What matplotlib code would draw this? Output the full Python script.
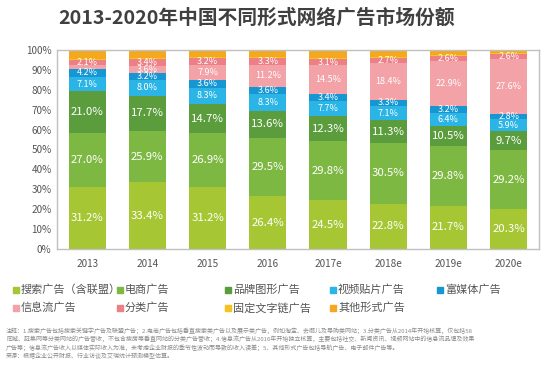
import numpy as np
import matplotlib
matplotlib.use('Agg')
import matplotlib.pyplot as plt
from matplotlib.patches import Rectangle

plt.rcParams['font.family'] = ['Noto Sans CJK SC', 'DejaVu Sans']

# data (percent share, stacked bottom -> top)
years = ['2013', '2014', '2015', '2016', '2017e', '2018e', '2019e', '2020e']
series_names = ['搜索广告（含联盟）', '电商广告', '品牌图形广告', '视频贴片广告', '富媒体广告',
                '信息流广告', '分类广告', '固定文字链广告', '其他形式广告']
search = [31.2, 33.4, 31.2, 26.4, 24.5, 22.8, 21.7, 20.3]
ecommerce = [27.0, 25.9, 26.9, 29.5, 29.8, 30.5, 29.8, 29.2]
brand = [21.0, 17.7, 14.7, 13.6, 12.3, 11.3, 10.5, 9.7]
video = [7.1, 8.0, 8.3, 8.3, 7.7, 7.1, 6.4, 5.9]
rich_media = [4.2, 3.2, 3.6, 3.6, 3.4, 3.3, 3.2, 2.8]
feed = [2.1, 3.6, 7.9, 11.2, 14.5, 18.4, 22.9, 27.6]
classified = [2.1, 3.4, 3.2, 3.3, 3.1, 2.7, 2.6, 2.6]
text_link = [0.6, 0.5, 0.5, 0.4, 0.4, 0.3, 0.3, 0.2]
other = [4.7, 4.3, 3.7, 3.7, 4.3, 3.6, 2.6, 1.7]

colors = ['#a6c634', '#7db843', '#5b9c3d', '#2ab5e6', '#1697d3',
          '#f3a2a7', '#ed7f87', '#f6c21c', '#f4a820']

values = [search, ecommerce, brand, video, rich_media, feed, classified, text_link, other]

fig = plt.figure(figsize=(5.6, 3.75), dpi=100)
fig.patch.set_facecolor('white')
ax = fig.add_axes([0.102, 0.336, 0.86, 0.531])

x = np.arange(len(years))
bottom = np.zeros(len(years))
for i, (vals, c) in enumerate(zip(values, colors)):
    vals = np.array(vals)
    ax.bar(x, vals, width=0.62, bottom=bottom, color=c, edgecolor='none', zorder=2)
    if i < 7:
        big = i < 3
        for j, v in enumerate(vals):
            if i == 5 and j == 0:
                continue
            ax.text(x[j], bottom[j] + v / 2, f'{v:.1f}%', ha='center', va='center',
                    color='white', fontsize=8.2 if big else 6.5, zorder=3)
    bottom += vals

ax.set_xlim(-0.5, len(years) - 0.5)
ax.set_ylim(0, 100)
ax.set_yticks(np.arange(0, 101, 10))
ax.set_yticklabels([f'{t}%' for t in range(0, 101, 10)])
ax.set_xticks(x)
ax.set_xticklabels(years)
ax.tick_params(length=0, labelsize=7.2, colors='#555555')
ax.tick_params(axis='x', pad=7)
ax.tick_params(axis='y', pad=4)
for s in ax.spines.values():
    s.set_color('#c0c0c0')
    s.set_linewidth(1)

fig.text(0.459, 0.952, '2013-2020年中国不同形式网络广告市场份额', ha='center', va='center',
         fontsize=14.2, fontweight='bold', color='#404040')

# legend
col_x = [16, 120, 228, 333, 440]
row_y = [0.227, 0.179]
for i, (name, c) in enumerate(zip(series_names, colors)):
    px = col_x[i % 5] / 560
    py = row_y[i // 5]
    fig.patches.append(Rectangle((px - 0.0045, py - 0.007), 0.009, 0.0135,
                                 transform=fig.transFigure, color=c, figure=fig))
    fig.text(px + 0.009, py, name, ha='left', va='center', fontsize=8, color='#555555')

notes = [
    '注释：1.搜索广告包括搜索关键字广告及联盟广告；2.电商广告包括垂直搜索类广告以及展示类广告，例如淘宝、去哪儿及导购类网站；3.分类广告从2014年开始核算，仅包括58',
    '同城、赶集网等分类网站的广告营收，不包含搜房等垂直网站的分类广告营收；4.信息流广告从2016年开始独立核算，主要包括社交、新闻资讯、视频网站中的信息流品牌及效果',
    '广告等；信息流广告收入以媒体实际收入为准，未考虑企业财报的季节性波动而导致的收入误差；5、其他形式广告包括导航广告、电子邮件广告等。',
    '来源：根据企业公开财报、行业访谈及艾瑞统计预测模型估算。',
]
for k, line in enumerate(notes):
    fig.text(0.011, 0.118 - k * 0.0222, line, ha='left', va='center', fontsize=4.3, color='#8a8a8a')

fig.savefig('out.png', dpi=100)
